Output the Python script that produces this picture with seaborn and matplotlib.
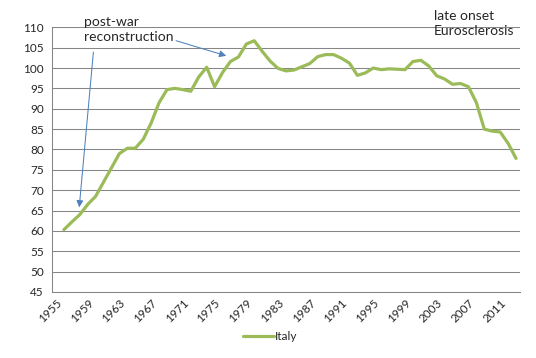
import matplotlib
matplotlib.use("Agg")
import matplotlib.pyplot as plt
import seaborn as sns
import pandas as pd
import numpy as np

# dados (índice, Itália)
anos = list(range(1956, 2014))
italia = [60.3, 62.2, 64.0, 66.5, 68.5, 72.0, 75.5, 79.0, 80.3, 80.3,
          82.5, 86.5, 91.5, 94.7, 95.0, 94.7, 94.3, 97.8, 100.2, 95.4,
          98.9, 101.6, 102.7, 105.9, 106.7, 104.1, 101.7, 99.9, 99.3, 99.5,
          100.3, 101.1, 102.8, 103.3, 103.3, 102.4, 101.2, 98.2, 98.8, 100.0,
          99.6, 99.8, 99.7, 99.6, 101.6, 101.9, 100.5, 98.1, 97.3, 96.0,
          96.2, 95.4, 91.5, 85.0, 84.5, 84.3, 81.5, 77.8]
rotulos_x = list(range(1955, 2012, 4))
ticks_y = list(range(45, 111, 5))

df = pd.DataFrame({"Ano": anos, "Índice": italia})

sns.set_style("white")
plt.rcParams['font.family'] = ['Lato', 'DejaVu Sans']

fig = plt.figure(figsize=(5.36, 3.58), dpi=100)
ax = fig.add_axes([52/536, 1-292/358, 468/536, (292-27.3)/358])

sns.lineplot(data=df, x="Ano", y="Índice", color="#9BBB59", linewidth=2.3,
             label="Italy", ax=ax, legend=False)

# eixos
ax.set_xlim(1954.5, 2013.5)
ax.set_ylim(45, 110)
ax.set_yticks(ticks_y)
ax.set_xticks(rotulos_x)
ax.set_xticklabels([str(a) for a in rotulos_x], rotation=45, ha='right',
                   rotation_mode='anchor', fontsize=8.5)
ax.set_xticks(np.arange(1954.5, 2014.5, 1), minor=True)
ax.tick_params(axis='x', which='major', length=0, pad=4)
ax.tick_params(axis='x', which='minor', length=4, color='#868686', width=0.7)
ax.tick_params(axis='y', length=4, color='#868686', width=0.7, labelsize=8.5, pad=2)
ax.set_xlabel("")
ax.set_ylabel("")
ax.grid(axis='y', color='#868686', linewidth=0.75)
for lado in ['top', 'right']:
    ax.spines[lado].set_visible(False)
for lado in ['left', 'bottom']:
    ax.spines[lado].set_color('#868686')
    ax.spines[lado].set_linewidth(0.75)

# anotações
ax.text(1958.5, 109.4, "post-war\nreconstruction", fontsize=10, va='center',
        ha='left', linespacing=1.3, clip_on=False)
ax.annotate("", xy=(1957.9, 65.1), xytext=(1959.75, 104.6),
            arrowprops=dict(arrowstyle='-|>', color='#4F81BD', lw=0.75,
                            mutation_scale=10))
ax.annotate("", xy=(1976.8, 102.8), xytext=(1969.8, 106.9),
            arrowprops=dict(arrowstyle='-|>', color='#4F81BD', lw=0.75,
                            mutation_scale=10))
ax.text(2002.6, 110.96, "late onset\nEurosclerosis", fontsize=10, va='center',
        ha='left', linespacing=1.3, clip_on=False)

# legenda
h, l = ax.get_legend_handles_labels()
fig.legend(h, l, loc='center', bbox_to_anchor=(270/536, 1-337/358), frameon=False,
           fontsize=8.5, handlelength=2.6, handletextpad=0.1)

fig.savefig("out.png", dpi=100)
